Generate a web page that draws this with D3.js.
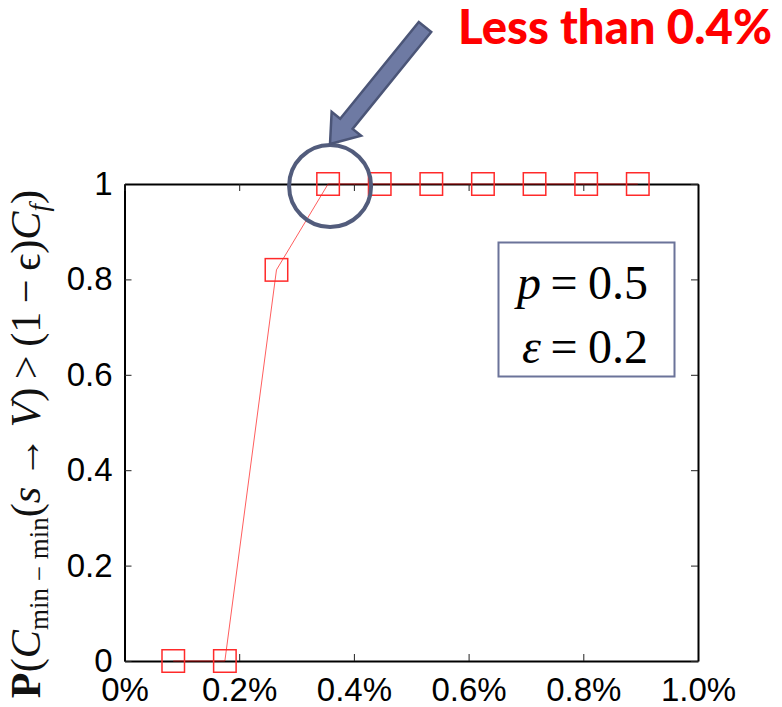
<!DOCTYPE html>
<meta charset="utf-8">
<head>
  <title>Min-cut probability</title>
  <script src="https://cdn.jsdelivr.net/npm/d3@7"></script>
  <style>
    body { margin: 0; background: #fff; }
    svg { display: block; }
    .tick text { font-family: "Liberation Sans", Arial, sans-serif; font-size: 33px; fill: #000; }
  </style>
</head>
<body>
<svg width="782" height="707"></svg>
<script>

  // sampling fraction (%) and probability
  var fracs = [0.085, 0.175, 0.265, 0.355, 0.445, 0.535, 0.625, 0.715, 0.805, 0.895];
  var probs = [0, 0, 0.82, 1, 1, 1, 1, 1, 1, 1];

  var xTicks = [0, 0.2, 0.4, 0.6, 0.8, 1.0];
  var xTickLabels = ["0%", "0.2%", "0.4%", "0.6%", "0.8%", "1.0%"];
  var yTicks = [0, 0.2, 0.4, 0.6, 0.8, 1];
  var yTickLabels = ["0", "0.2", "0.4", "0.6", "0.8", "1"];

  var svg = d3.select("svg");

  var x = d3.scaleLinear().domain([0, 1]).range([124.5, 698]);
  var y = d3.scaleLinear().domain([0, 1]).range([661, 184]);

  // axes, ticks pointing inward (matlab style box)
  function fmt(labels, ticks) {
    return function(d) { return labels[ticks.indexOf(d)]; };
  }

  var gx = svg.append("g")
    .attr("transform", "translate(0," + y(0) + ")")
    .call(d3.axisBottom(x).tickValues(xTicks).tickFormat(fmt(xTickLabels, xTicks))
      .tickSizeInner(-7).tickSizeOuter(0).tickPadding(17));

  var gy = svg.append("g")
    .attr("transform", "translate(" + x(0) + ",0)")
    .call(d3.axisLeft(y).tickValues(yTicks).tickFormat(fmt(yTickLabels, yTicks))
      .tickSizeInner(-7).tickSizeOuter(0).tickPadding(12));

  var gt = svg.append("g")
    .attr("transform", "translate(0," + y(1) + ")")
    .call(d3.axisTop(x).tickValues(xTicks).tickFormat("")
      .tickSizeInner(-7).tickSizeOuter(0));

  var gr = svg.append("g")
    .attr("transform", "translate(" + x(1) + ",0)")
    .call(d3.axisRight(y).tickValues(yTicks).tickFormat("")
      .tickSizeInner(-7).tickSizeOuter(0));

  [gx, gy, gt, gr].forEach(function(g) {
    g.select(".domain").attr("stroke", "#000").attr("stroke-width", 2);
    g.selectAll(".tick line").attr("stroke", "#222").attr("stroke-width", 1);
  });

  // data line + square markers
  var pts = fracs.map(function(f, i) { return [f, probs[i]]; });

  svg.append("path")
    .datum(pts)
    .attr("fill", "none")
    .attr("stroke", "#f00")
    .attr("stroke-width", 0.8)
    .attr("stroke-opacity", 0.8)
    .attr("d", d3.line().x(function(d) { return x(d[0]); }).y(function(d) { return y(d[1]); }));

  var ms = 22.5;
  svg.selectAll("rect.mk")
    .data(pts)
    .enter()
    .append("rect")
      .attr("class", "mk")
      .attr("x", function(d) { return x(d[0]) - ms / 2; })
      .attr("y", function(d) { return y(d[1]) - ms / 2; })
      .attr("width", ms)
      .attr("height", ms)
      .attr("fill", "none")
      .attr("stroke", "#ff2a2a")
      .attr("stroke-width", 1.5);

  // y axis label (math)
  var yl = svg.append("text")
    .attr("transform", "translate(40,444) rotate(-90)")
    .attr("text-anchor", "middle")
    .style("font-family", "'Liberation Serif', 'DejaVu Serif', serif")
    .style("font-size", "38px")
    .attr("fill", "#111");

  var parts = [
    ["P", "bold"],
    ["(", ""],
    ["C", "italic"],
    ["min \u2212 min", "sub"],
    ["(", ""],
    ["s", "italic"],
    ["\u2009\u2192\u2009", ""],
    ["V", "italic"],
    [")\u2009>\u2009(1\u2009\u2212\u2009", ""],
    ["\u03f5", ""],
    [")", ""],
    ["C", "italic"],
    ["f", "subi"],
    [")", ""]
  ];
  var prevSub = false;
  parts.forEach(function(p) {
    var t = yl.append("tspan").text(p[0]);
    var sub = p[1] === "sub" || p[1] === "subi";
    if (p[1] === "bold") t.style("font-weight", "bold");
    if (p[1] === "italic" || p[1] === "subi") t.style("font-style", "italic");
    if (sub) t.style("font-size", "27px");
    if (sub && !prevSub) t.attr("dy", 8);
    if (!sub && prevSub) t.attr("dy", -8);
    prevSub = sub;
  });
  var L = yl.node().getComputedTextLength();
  yl.style("font-size", (38 * 522 / L) + "px");

  // parameter box
  svg.append("rect")
    .attr("x", 498.5).attr("y", 242.5)
    .attr("width", 176).attr("height", 134)
    .attr("fill", "#fff")
    .attr("stroke", "#6b7399")
    .attr("stroke-width", 2);

  var mathFont = "'Liberation Serif', 'DejaVu Serif', serif";
  function eqLine(sym, val, base) {
    svg.append("text").attr("x", 541).attr("y", base).attr("text-anchor", "end")
      .style("font-family", mathFont).style("font-size", "48px").style("font-style", "italic")
      .text(sym);
    svg.append("text").attr("x", 564).attr("y", base).attr("text-anchor", "middle")
      .style("font-family", mathFont).style("font-size", "48px")
      .text("=");
    svg.append("text").attr("x", 648).attr("y", base).attr("text-anchor", "end")
      .style("font-family", mathFont).style("font-size", "48px")
      .text(val);
  }
  eqLine("p", "0.5", 299);
  eqLine("\u03b5", "0.2", 363);

  // highlight circle
  svg.append("circle")
    .attr("cx", x(fracs[3]) + 2).attr("cy", y(1) + 2).attr("r", 41)
    .attr("fill", "none")
    .attr("stroke", "#525c7c")
    .attr("stroke-width", 4);

  // block arrow pointing at the circle
  var tail = [425, 27], tip = [330, 144];
  var dx = tip[0] - tail[0], dy = tip[1] - tail[1];
  var len = Math.sqrt(dx * dx + dy * dy);
  var ux = dx / len, uy = dy / len, nx = -uy, ny = ux;
  var sw = 8, hw = 19, hl = 26;
  function P(a, b) { return [tail[0] + ux * a + nx * b, tail[1] + uy * a + ny * b]; }
  var arrow = [P(0, -sw), P(len - hl, -sw), P(len - hl, -hw), P(len, 0), P(len - hl, hw), P(len - hl, sw), P(0, sw)];
  svg.append("polygon")
    .attr("points", arrow.map(function(p) { return p.join(","); }).join(" "))
    .attr("fill", "#6e7aa3")
    .attr("stroke", "#4b5577")
    .attr("stroke-width", 2.5)
    .attr("stroke-linejoin", "miter");

  // callout text
  var ct = svg.append("text")
    .attr("x", 458).attr("y", 44)
    .style("font-family", "Lato, 'Open Sans', sans-serif")
    .style("font-weight", "900")
    .style("font-size", "44px")
    .attr("fill", "#ff0000")
    .text("Less than 0.4%");
  var cl = ct.node().getComputedTextLength();
  ct.style("font-size", (44 * 314 / cl) + "px");

</script>
</body>
</html>
